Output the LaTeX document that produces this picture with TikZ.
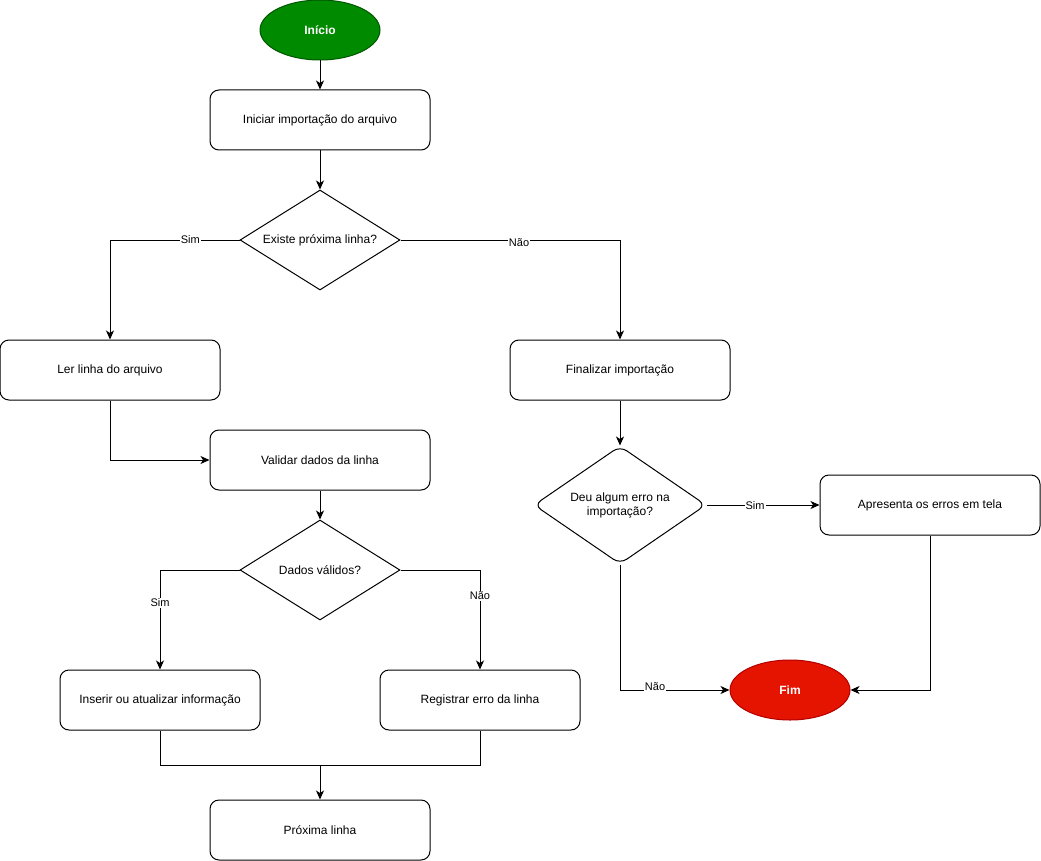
\documentclass[tikz,border=0pt]{standalone}
\usepackage{fontspec}
\setmainfont{Liberation Sans}
\usetikzlibrary{shapes.geometric,arrows.meta}
\definecolor{startgreen}{HTML}{008A00}
\definecolor{startgreenb}{HTML}{005700}
\definecolor{endred}{HTML}{E51400}
\definecolor{endredb}{HTML}{B20000}
\tikzset{
  box/.style={draw=black, line width=1pt, rounded corners=9pt, minimum width=220pt, minimum height=60pt, inner sep=0pt, font=\fontsize{12}{14}\selectfont, align=center},
  sbox/.style={box, minimum width=200pt},
  dia/.style={draw=black, line width=1pt, diamond, minimum width=160pt, minimum height=100pt, inner sep=0pt},
  dtext/.style={font=\fontsize{12}{14}\selectfont, align=center},
  term/.style={ellipse, line width=1pt, minimum width=120pt, minimum height=60pt, inner sep=0pt, text=white, font=\bfseries\fontsize{12}{14}\selectfont},
  conn/.style={draw=black, line width=1pt, -{Stealth[length=9pt,width=8pt,inset=2.5pt]}},
  plain/.style={draw=black, line width=1pt},
  lbl/.style={fill=white, inner sep=1pt, font=\fontsize{11}{13}\selectfont}
}
\begin{document}
\begin{tikzpicture}[x=1pt,y=-1pt]
\useasboundingbox (0,0) rectangle (1041,861);
% nodes
\node[term, fill=startgreen, draw=startgreenb] (ini) at (320,30) {Início};
\node[box] (b1) at (320,120) {Iniciar importação do arquivo};
\node[dia, label={[dtext]center:Existe próxima linha?}] (d1) at (320,240) {};
\node[box] (ler) at (110,370) {Ler linha do arquivo};
\node[box] (fin) at (620,370) {Finalizar importação};
\node[box] (val) at (320,460) {Validar dados da linha};
\node[dia, label={[dtext]center:Dados válidos?}] (d2) at (320,570) {};
\node[sbox] (ins) at (160,700) {Inserir ou atualizar informação};
\node[sbox] (reg) at (480,700) {Registrar erro da linha};
\node[box] (prox) at (320,830) {Próxima linha};
\node[dia, rounded corners=8pt, minimum width=172pt, minimum height=118pt, label={[dtext]center:Deu algum erro na\\importação?}] (d3) at (620,505) {};
\node[box] (ap) at (930,505) {Apresenta os erros em tela};
\node[term, fill=endred, draw=endredb] (fim) at (790,690) {Fim};
\coordinate (j) at (320,765);
% connectors
\draw[conn] (ini) -- (b1);
\draw[conn] (b1) -- (d1);
\draw[conn] (d1.west) -| node[lbl, pos=0.19] {Sim} (ler.north);
\draw[conn] (d1.east) -| node[lbl, pos=0.27, yshift=-3pt] {Não} (fin.north);
\draw[conn] (ler.south) |- (val.west);
\draw[conn] (val) -- (d2);
\draw[conn] (d2.west) -| node[lbl, pos=0.665] {Sim} (ins.north);
\draw[conn] (d2.east) -| node[lbl, pos=0.63] {Não} (reg.north);
\draw[plain] (ins.south) |- (j);
\draw[plain] (reg.south) |- (j);
\draw[conn] (j) -- (prox.north);
\draw[conn] (fin) -- (d3);
\draw[conn] (d3.east) -- node[lbl, pos=0.43, yshift=-1pt] {Sim} (ap.west);
\draw[conn] (d3.south) |- node[lbl, pos=0.66, yshift=3pt] {Não} (fim.west);
\draw[conn] (ap.south) |- (fim.east);
\end{tikzpicture}
\end{document}
